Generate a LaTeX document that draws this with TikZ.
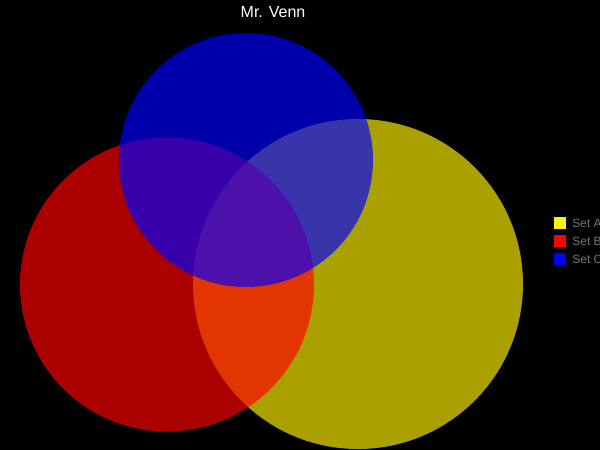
\documentclass[tikz,border=0pt]{standalone}
\usepackage{xcolor}
\usepackage{fontspec}
\setmainfont{Liberation Sans}
\usepackage{tikz}
\usetikzlibrary{positioning}
\definecolor{keygray}{RGB}{118,118,118}
\tikzset{
    vennset/.style={circle, inner sep=0pt, fill opacity=0.667, minimum size=#1},
    keybox/.style={rectangle, inner sep=0pt, minimum size=12pt},
    keytext/.style={text=keygray, font=\fontsize{12pt}{13pt}\selectfont, inner sep=0pt, anchor=west}
}
\begin{document}
\begin{tikzpicture}[x=1pt, y=-1pt]
    \fill[black] (0,0) rectangle (600,450);
    \useasboundingbox (0,0) rectangle (600,450);
    % title
    \node[text=white, font=\fontsize{16pt}{18pt}\selectfont] (title) at (273,12) {Mr. Venn};
    % the three sets
    \node[vennset=330pt, fill=yellow] (setA) at (358,284) {};
    \node[vennset=294pt, fill=red] (setB) at (167,284.5) {};
    \node[vennset=254pt, fill=blue] (setC) at (246,160) {};
    % legend
    \node[keybox, fill=yellow] (keyA) at (560,223) {};
    \node[keybox, fill=red] (keyB) at (560,241) {};
    \node[keybox, fill=blue] (keyC) at (560,259) {};
    \node[keytext, right=6pt of keyA] (labA) {Set A};
    \node[keytext, right=6pt of keyB] (labB) {Set B};
    \node[keytext, right=6pt of keyC] (labC) {Set C};
\end{tikzpicture}
\end{document}
